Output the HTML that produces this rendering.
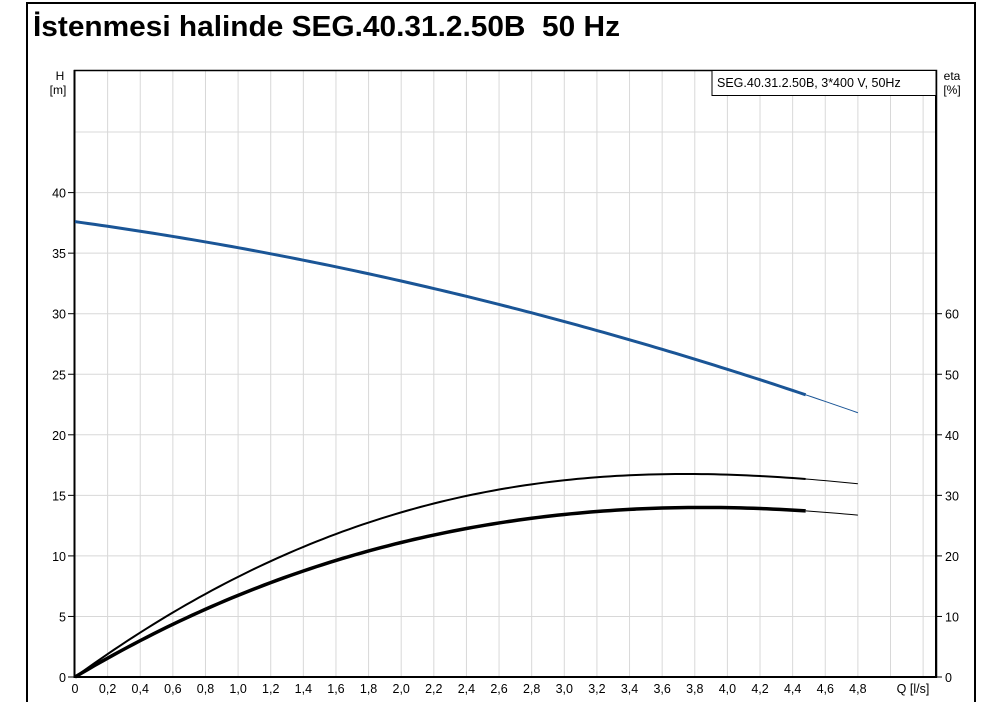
<!DOCTYPE html>
<html><head><meta charset="utf-8"><style>
body{margin:0;background:#fff;width:1000px;height:702px;overflow:hidden;font-family:"Liberation Sans",Arial,sans-serif}
</style></head><body>
<svg id="s" width="1000" height="702" xmlns="http://www.w3.org/2000/svg" font-family="Liberation Sans, Arial, sans-serif">
<line x1="26" y1="3" x2="976" y2="3" stroke="#000" stroke-width="2"/>
<line x1="27" y1="3" x2="27" y2="702" stroke="#000" stroke-width="2"/>
<line x1="975" y1="3" x2="975" y2="702" stroke="#000" stroke-width="2"/>
<text x="33" y="36" font-size="29" font-weight="bold" textLength="587" lengthAdjust="spacingAndGlyphs">İstenmesi halinde SEG.40.31.2.50B&#160; 50 Hz</text>
<g id="grid" stroke="#d8d8d8" stroke-width="1"></g>
<rect x="74.5" y="70.5" width="862" height="606.5" fill="none" stroke="#000" stroke-width="1.5"/>
<line x1="74" y1="677" x2="937" y2="677" stroke="#000" stroke-width="2"/>
<line x1="74.5" y1="70" x2="74.5" y2="678" stroke="#000" stroke-width="2"/>
<line x1="936" y1="70" x2="936" y2="678" stroke="#000" stroke-width="2"/>
<rect x="712" y="70.5" width="224" height="25" fill="#fff" stroke="#000" stroke-width="1"/>
<text x="717" y="87" font-size="12.5">SEG.40.31.2.50B, 3*400 V, 50Hz</text>
<text x="60" y="80" font-size="12" text-anchor="middle">H</text>
<text x="58" y="94" font-size="12" text-anchor="middle">[m]</text>
<text x="952" y="80" font-size="12" text-anchor="middle">eta</text>
<text x="952" y="94" font-size="12" text-anchor="middle">[%]</text>
<text x="913" y="693" font-size="12.5" text-anchor="middle">Q [l/s]</text>
<g id="labels" font-size="12.5"></g>
<g id="curves" fill="none"></g>
</svg>
<script>
var NS="http://www.w3.org/2000/svg",g=document.getElementById('grid'),L=document.getElementById('labels'),C=document.getElementById('curves');
function el(p,t,a,txt){var e=document.createElementNS(NS,t);for(var k in a)e.setAttribute(k,a[k]);if(txt!=null)e.textContent=txt;p.appendChild(e);return e;}
var x0=75,dx=32.62,y0=677,dy=60.55;
for(var i=1;i<=26;i++){var x=x0+i*dx;if(x<936)el(g,'line',{x1:x,y1:71,x2:x,y2:677});}
for(var j=1;j<=9;j++){var y=y0-j*dy;el(g,'line',{x1:75,y1:y,x2:936,y2:y});}
for(var i=0;i<=24;i++){var x=x0+i*dx;el(L,'text',{x:x,y:693,'text-anchor':'middle'},i==0?'0':(i*0.2).toFixed(1).replace('.',','));}
for(var j=0;j<=8;j++){var y=y0-j*dy;el(L,'text',{x:66,y:y+5,'text-anchor':'end'},String(j*5));el(L,'line',{x1:68,y1:y,x2:75,y2:y,stroke:'#000'});}
for(var j=0;j<=6;j++){var y=y0-j*dy;el(L,'text',{x:945,y:y+5},String(j*10));el(L,'line',{x1:936,y1:y,x2:942,y2:y,stroke:'#000'});}
function X(q){return x0+q*dx*5;}
function fnp(f,a,b){var p=[];for(var q=a;q<=b+1e-9;q+=0.04)p.push(X(q).toFixed(2)+','+f(q).toFixed(2));return 'M'+p.join(' L');}
function H(q){return y0-(37.6-1.852*q-0.299*q*q)*dy/5;}
el(C,'path',{d:fnp(H,0,4.48),stroke:'#1a5596','stroke-width':3});
el(C,'path',{d:fnp(H,4.48,4.8),stroke:'#1a5596','stroke-width':1});
function fit(pts,deg){var n=deg,A=[],B=[];for(var i=0;i<n;i++){A.push(new Array(n).fill(0));B.push(0);}
pts.forEach(function(p){var q=p[0],h=y0-p[1],w=p[2]||1;for(var i=0;i<n;i++){B[i]+=w*h*Math.pow(q,i+1);for(var j=0;j<n;j++)A[i][j]+=w*Math.pow(q,i+j+2);}});
for(var i=0;i<n;i++){var m=i;for(var r=i+1;r<n;r++)if(Math.abs(A[r][i])>Math.abs(A[m][i]))m=r;var t=A[i];A[i]=A[m];A[m]=t;t=B[i];B[i]=B[m];B[m]=t;
for(var r=0;r<n;r++)if(r!=i){var f=A[r][i]/A[i][i];for(var c=0;c<n;c++)A[r][c]-=f*A[i][c];B[r]-=f*B[i];}}
var co=B.map(function(b,i){return b/A[i][i];});return function(q){var s=0;for(var i=0;i<n;i++)s+=co[i]*Math.pow(q,i+1);return y0-s;};}
var up=[[0.6,611.5],[0.8,594],[1.0,577.5],[1.2,561.5],[1.4,547],[1.6,534.3],[1.8,522.7],[2.0,512],[2.2,503],[2.4,495.5],[2.6,489.5],[2.8,484.5],[3.0,480.5],[3.2,477.3],[3.4,475.3],[3.6,474.3],[3.8,474.2],[4.0,474.7],[4.2,476],[4.4,477.8],[4.48,478.8],[4.64,481.2],[4.8,484]];
var lo=[[0.6,624],[0.8,609],[1.0,595.5],[1.2,583],[1.4,571.2],[1.6,560.5],[1.8,551],[2.0,542.3],[2.2,534.8],[2.4,528.3],[2.6,523],[2.8,518.5],[3.0,514.5],[3.2,511.5],[3.4,509.3],[3.6,508],[3.8,507.6],[4.0,507.8],[4.2,508.6],[4.4,510],[4.48,510.7],[4.64,512.8],[4.8,515.3]];
var fu=fit(up,4),fl=fit(lo,4);
el(C,'path',{d:fnp(fu,0,4.48),stroke:'#000','stroke-width':2});
el(C,'path',{d:fnp(fu,4.48,4.8),stroke:'#000','stroke-width':1});
el(C,'path',{d:fnp(fl,0,4.48),stroke:'#000','stroke-width':3.5});
el(C,'path',{d:fnp(fl,4.48,4.8),stroke:'#000','stroke-width':1});
</script>
</body></html>
